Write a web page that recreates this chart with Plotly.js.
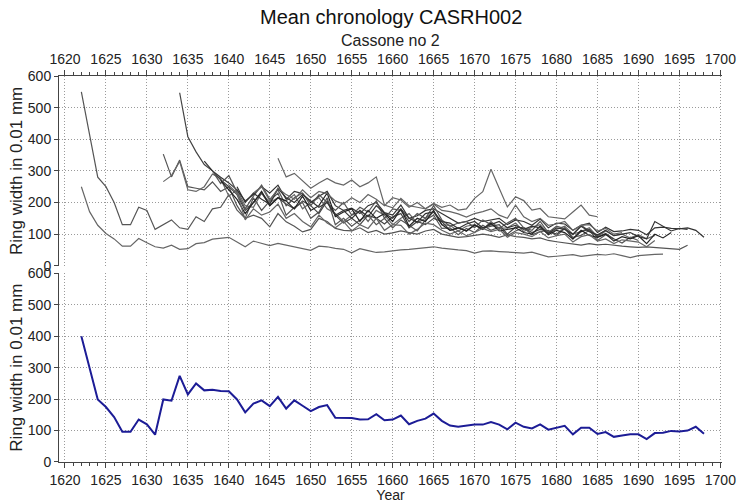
<!DOCTYPE html>
<html>
<head>
<meta charset="utf-8">
<script src="https://cdn.plot.ly/plotly-3.0.1.min.js"></script>
<style>html,body{margin:0;padding:0;background:#fff;}#chart{width:740px;height:503px;}</style>
</head>
<body>
<div id="chart"></div>
<script>
// ---- Data ----
const meanStart = 1622;
const meanValues = [400,300,199,175,143,96,96,135,120,87,199,195,274,215,250,228,230,226,225,199,158,186,196,178,207,170,196,179,162,175,181,141,141,140,135,136,152,133,135,148,120,131,138,154,131,116,112,115,119,119,127,119,104,125,112,107,120,103,108,115,88,109,109,89,95,80,84,88,88,73,92,93,99,97,100,112,90];

const s1Start = 1622;
const s1 = [250,171,128,102,85,62,62,86,73,60,56,65,52,54,70,73,84,88,90,75,60,78,72,64,71,66,60,55,49,62,60,55,52,41,54,48,42,44,48,50,52,55,58,60,56,52,50,48,40,46,47,45,44,42,40,43,36,28,30,32,35,30,33,36,34,38,32,26,32,35,36,37];
const s2Start = 1622;
const s2 = [550,420,280,250,200,130,130,185,175,115,130,145,120,115,155,140,180,185,225,176,150,160,150,123,165,139,125,107,115,150,140,118,112,110,120,105,112,100,104,110,105,100,110,115,100,95,90,92,95,100,96,90,98,92,90,85,88,80,76,72,68,65,70,66,68,64,62,60,58,60,58,56,55,52,65];
const s3Start = 1632;
const s3 = [353,281,334,250,245,240,265,235,250,190,150,215,175,205,230,160,185,200,150,170,215,130,150,125,145,160,130,150,120,145,128,110,145,160,118,120,98,118,105,128,112,122,95,110,120,98,108,112,95,118,90,96,112,80,98,85,72,90,80];
const s4Start = 1632;
const s4 = [266,285,330,240,235,250,290,275,220,240,190,185,230,200,215,205,225,180,200,215,180,165,140,160,172,140,175,160,130,150,165,135,150,170,130,128,110,125,130,115,140,118,120,135,108,122,130,102,115,125,100,108,120,92,110,95,100,88,98,85,96];
const s5Start = 1634;
const s5 = [547,408,360,320,300,272,250,225,175,200,230,190,215,195,180,205,190,165,205,160,135,150,130,160,150,132,155,165,120,140,130,150,140,112,120,110,130,118,125,130,100,122,120,105,115,110,100,120,85,108,115,90,102,85];
const s6Start = 1637;
const s6 = [331,300,280,262,240,205,225,250,230,255,210,235,228,200,220,235,190,175,182,165,190,200,168,160,192,150,158,175,180,165,150,135,140,150,140,145,150,130,145,140,128,148,120,135,132,112,128,135,105,122,108,110,115,112,98,120,122,118,117,120,112,90];
const s7Start = 1638;
const s7 = [300,260,285,230,180,220,255,210,240,190,215,230,190,225,200,175,200,160,185,170,205,150,180,175,140,165,150,190,145,125,135,140,120,145,130,118,135,150,120,112,140,105,125,118,98,128,110,95,112];
const s8Start = 1639;
const s8 = [270,240,210,165,200,235,190,215,205,180,220,175,190,230,155,170,180,140,175,150,165,140,180,125,150,140,175,130,112,120,110,128,115,135,110,115,120,105,100,125,98,112,105,85,112,96,90,100,78,92,85,95,70,100,88,105];
const s9Start = 1640;
const s9 = [255,230,145,180,160,170,195,150,165,140,123,160,135,120,140,110,130,118,150,112,130,128,100,115,135,130,112,100,110,95,105,118,108,115,90,105,100,92,108,88,95,100,75,92,98,78,85,70,82,78,75,60,80];
const s10Start = 1641;
const s10 = [250,200,230,210,195,245,215,200,225,205,185,200,160,175,150,175,155,190,165,150,180,150,138,165,170,140,135,118,132,140,120,130,140,120,128,115,125,120,102,120,115,100,125,108,98,112,95,100,105,92,85,140,125,110,118,115];
const s11Start = 1643;
const s11 = [230,250,205,245,225,210,240,215,235,228,205,195,215,200,225,210,190,215,208,185,200,180,195,175,171,164,154,165,171,180,160,150,192,155,140,150,128,132,140,112,128,130,110,118,100,105];
const s12Start = 1646;
const s12 = [340,281,292,270,245,262,276,262,255,271,250,262,281,192,183,213,190,185,180,197,185,192,176,180,213,234,305,245,186,218,206,176,181,155,152,148,170,192,160,155];

const xTickVals = [1620,1625,1630,1635,1640,1645,1650,1655,1660,1665,1670,1675,1680,1685,1690,1695,1700];
const yTickVals = [0,100,200,300,400,500,600];

const titleText = 'Mean chronology CASRH002';
const subtitleText = 'Cassone no 2';
const yTitleText = 'Ring width in 0.01 mm';
const xTitleText = 'Year';

// ---- Build traces ----
const series = [
  [s1Start,s1,'#666'],[s2Start,s2,'#555'],[s3Start,s3,'#555'],[s4Start,s4,'#666'],
  [s5Start,s5,'#444'],[s6Start,s6,'#333'],[s7Start,s7,'#555'],[s8Start,s8,'#222'],
  [s9Start,s9,'#666'],[s10Start,s10,'#333'],[s11Start,s11,'#666'],[s12Start,s12,'#666']
];
const traces = series.map(([st, vals, col]) => ({
  x: vals.map((_, i) => st + i), y: vals, type: 'scatter', mode: 'lines',
  xaxis: 'x2', yaxis: 'y', line: {color: col, width: 1.2}, hoverinfo: 'skip', showlegend: false
}));
traces.push({
  x: meanValues.map((_, i) => meanStart + i), y: meanValues, type: 'scatter', mode: 'lines',
  xaxis: 'x', yaxis: 'y2', line: {color: '#1c1c96', width: 2}, showlegend: false
});

const font = 'Liberation Sans, Arial, sans-serif';
const gridCommon = {showgrid: true, gridcolor: '#9a9a9a', griddash: '1px,2px', gridwidth: 1, zeroline: false};
const xCommon = Object.assign({}, gridCommon, {
  range: [1619.27, 1700.2], tickmode: 'array', tickvals: xTickVals,
  ticks: 'outside', ticklen: 5, tickcolor: '#444', showline: true, linecolor: '#444', linewidth: 1,
  tickfont: {family: font, size: 14, color: '#222'},
  minor: {dtick: 1, tick0: 1620, ticklen: 3, tickcolor: '#444', ticks: 'outside', showgrid: false}
});
const yCommon = Object.assign({}, gridCommon, {
  range: [0, 600], tickmode: 'array', tickvals: yTickVals,
  ticks: 'outside', ticklen: 4, tickcolor: '#444', showline: true, linecolor: '#444', linewidth: 1,
  tickfont: {family: font, size: 14, color: '#222'},
  title: {text: yTitleText, font: {family: font, size: 17, color: '#222'}, standoff: 0}
});

const layout = {
  width: 740, height: 503, autosize: false,
  margin: {l: 59, r: 18, t: 76, b: 41},
  paper_bgcolor: '#fff', plot_bgcolor: '#fff',
  showlegend: false,
  xaxis: Object.assign({}, xCommon, {anchor: 'y2', side: 'bottom',
    title: {text: xTitleText, font: {family: font, size: 14, color: '#222'}, standoff: 2}}),
  xaxis2: Object.assign({}, xCommon, {anchor: 'y', side: 'top', matches: 'x'}),
  yaxis: Object.assign({}, yCommon, {domain: [0.5084, 1], anchor: 'x2'}),
  yaxis2: Object.assign({}, yCommon, {domain: [0, 0.4885], anchor: 'x'}),
  annotations: [
    {text: titleText, xref: 'paper', yref: 'paper', x: 0.5, y: 1.153, showarrow: false,
     xanchor: 'center', yanchor: 'middle', font: {family: font, size: 20, color: '#111'}},
    {text: subtitleText, xref: 'paper', yref: 'paper', x: 0.5, y: 1.093, showarrow: false,
     xanchor: 'center', yanchor: 'middle', font: {family: font, size: 16, color: '#222'}}
  ]
};

Plotly.newPlot('chart', traces, layout, {displayModeBar: false, staticPlot: true});
</script>
</body>
</html>
